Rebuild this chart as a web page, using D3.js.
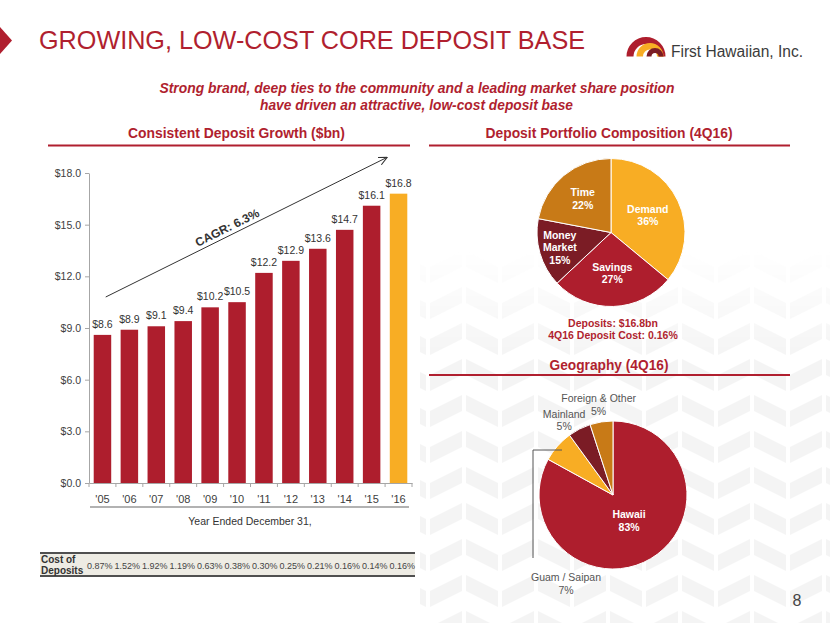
<!DOCTYPE html>
<html><head><meta charset="utf-8">
<script src="https://cdn.jsdelivr.net/npm/d3@7"></script>
<style>
body{margin:0;background:#fff}
svg{display:block}
text{font-family:"Liberation Sans",Arial,Helvetica,sans-serif}
.narrow{font-family:"Liberation Sans Narrow","Arial Narrow","Liberation Sans",Arial,sans-serif}
</style>
</head><body>
<svg id="c" width="830" height="623"></svg>
<script>
// ---------- data ----------
const years = ["'05","'06","'07","'08","'09","'10","'11","'12","'13","'14","'15","'16"];
const deposits = [8.6, 8.9, 9.1, 9.4, 10.2, 10.5, 12.2, 12.9, 13.6, 14.7, 16.1, 16.8];
const costOfDeposits = ["0.87%","1.52%","1.92%","1.19%","0.63%","0.38%","0.30%","0.25%","0.21%","0.16%","0.14%","0.16%"];
const yTicks = [0, 3, 6, 9, 12, 15, 18];
const compLabels = ["Demand","Savings","Money Market","Time"];
const compValues = [36, 27, 15, 22];
const geoLabels = ["Hawaii","Guam / Saipan","Mainland","Foreign & Other"];
const geoValues = [83, 7, 5, 5];

// ---------- styles ----------
const RED = "#AE1E2D", ORANGE = "#F8AD24", MAROON = "#7B1C25", DKORANGE = "#C87A17";
const TITLE_RED = "#B01F2F";
const compColors = [ORANGE, RED, MAROON, DKORANGE];
const geoColors = [RED, ORANGE, MAROON, DKORANGE];
const compLabelRadius = [0.55, 0.55, 0.72, 0.6];

const svg = d3.select("#c");
const defs = svg.append("defs");

// ---------- faint chevron background ----------
const pat = defs.append("pattern").attr("id","chev").attr("patternUnits","userSpaceOnUse")
  .attr("width",72).attr("height",36).attr("x",428).attr("y",250);
const CHEV = "#f4f4f4";
pat.append("polygon").attr("points","2,17 34,1 34,17 2,33").attr("fill",CHEV);
pat.append("polygon").attr("points","38,1 70,17 70,33 38,17").attr("fill",CHEV);
pat.append("polygon").attr("points","2,-19 34,-35 34,-19 2,-3").attr("fill",CHEV);
pat.append("polygon").attr("points","38,37 70,53 70,69 38,53").attr("fill",CHEV);
const fade = defs.append("linearGradient").attr("id","fade").attr("x1",0).attr("y1",0).attr("x2",0).attr("y2",1);
fade.append("stop").attr("offset","0").attr("stop-color","#fff").attr("stop-opacity",0);
fade.append("stop").attr("offset","0.3").attr("stop-color","#fff").attr("stop-opacity",1);
const mask = defs.append("mask").attr("id","fm");
mask.append("rect").attr("x",420).attr("y",250).attr("width",410).attr("height",373).attr("fill","url(#fade)");
svg.append("rect").attr("x",420).attr("y",250).attr("width",410).attr("height",373)
  .attr("fill","url(#chev)").attr("mask","url(#fm)");

// ---------- header ----------
svg.append("polygon").attr("points","0,27 12,40.5 0,54").attr("fill",TITLE_RED);
svg.append("text").attr("x",39).attr("y",49).attr("font-size",25).attr("fill",TITLE_RED)
  .attr("textLength",546).attr("lengthAdjust","spacingAndGlyphs")
  .text("GROWING, LOW-COST CORE DEPOSIT BASE");

// logo
const logo = svg.append("g");
const half = d3.arc().startAngle(-Math.PI/2).endAngle(Math.PI/2);
logo.append("path").attr("transform","translate(646,56.5)")
  .attr("d", half({innerRadius:12.5, outerRadius:19.5})).attr("fill",RED);
logo.append("path").attr("transform","translate(650,56.5)")
  .attr("d", half({innerRadius:7, outerRadius:13.5})).attr("fill",ORANGE);
logo.append("path").attr("transform","translate(655,56.5)")
  .attr("d", half({innerRadius:3.5, outerRadius:8.5})).attr("fill",MAROON);
logo.append("text").attr("x",671).attr("y",57).attr("font-size",16).attr("fill","#3b3b3b")
  .attr("textLength",132).attr("lengthAdjust","spacingAndGlyphs").text("First Hawaiian, Inc.");

// subtitle
svg.append("text").attr("class","narrow").attr("x",417).attr("y",93).attr("text-anchor","middle")
  .attr("font-size",15).attr("font-weight","bold").attr("font-style","italic").attr("fill",TITLE_RED)
  .attr("textLength",515).attr("lengthAdjust","spacingAndGlyphs")
  .text("Strong brand, deep ties to the community and a leading market share position");
svg.append("text").attr("class","narrow").attr("x",416.5).attr("y",110).attr("text-anchor","middle")
  .attr("font-size",15).attr("font-weight","bold").attr("font-style","italic").attr("fill",TITLE_RED)
  .attr("textLength",313).attr("lengthAdjust","spacingAndGlyphs")
  .text("have driven an attractive, low-cost deposit base");

// section headings
function heading(txt, cx, y, w, x1, x2, ly){
  svg.append("text").attr("class","narrow").attr("x",cx).attr("y",y).attr("text-anchor","middle")
    .attr("font-size",15).attr("font-weight","bold").attr("fill",TITLE_RED)
    .attr("textLength",w).attr("lengthAdjust","spacingAndGlyphs").text(txt);
  svg.append("line").attr("x1",x1).attr("x2",x2).attr("y1",ly).attr("y2",ly)
    .attr("stroke",TITLE_RED).attr("stroke-width",2);
}
heading("Consistent Deposit Growth ($bn)", 236.5, 138, 217, 48, 410, 145.5);
heading("Deposit Portfolio Composition (4Q16)", 609, 138, 247, 429, 790, 145.5);
heading("Geography (4Q16)", 609, 370, 119, 429, 790, 375);

// ---------- bar chart ----------
const x = d3.scaleBand().domain(years).range([89, 412]).paddingInner(0.35).paddingOuter(0.175);
const y = d3.scaleLinear().domain([0, 18]).range([483, 173]);

const yAxis = svg.append("g").attr("transform","translate(89,0)")
  .call(d3.axisLeft(y).tickValues(yTicks).tickFormat(d => "$" + d.toFixed(1)).tickSize(4).tickSizeOuter(0).tickPadding(4));
yAxis.select(".domain").attr("stroke","#a6a6a6");
yAxis.selectAll(".tick line").attr("stroke","#a6a6a6");
yAxis.selectAll("text").attr("font-size",10.5).attr("fill","#404040").attr("font-family",null);

svg.append("g").selectAll("rect").data(deposits).join("rect")
  .attr("x",(d,i)=>x(years[i])).attr("width",x.bandwidth())
  .attr("y",d=>y(d)).attr("height",d=>y(0)-y(d))
  .attr("fill",(d,i)=> i === years.length-1 ? ORANGE : RED);

svg.append("g").selectAll("text").data(deposits).join("text")
  .attr("x",(d,i)=>x(years[i]) + x.bandwidth()/2).attr("y",d=>y(d)-7)
  .attr("text-anchor","middle").attr("font-size",10.5).attr("fill","#333")
  .text(d => "$" + d.toFixed(1));

// x axis
const xAxis = svg.append("g").attr("transform","translate(0,483)")
  .call(d3.axisBottom(x).tickSize(0).tickPadding(12));
xAxis.select(".domain").attr("stroke","#a6a6a6");
xAxis.selectAll("text").attr("font-size",11).attr("fill","#404040").attr("font-family",null);
const bounds = years.map(d => x(d) - x.step()*x.paddingInner()/2);
bounds.push(x(years[years.length-1]) + x.bandwidth() + x.step()*x.paddingInner()/2);
svg.append("g").selectAll("line").data(bounds).join("line")
  .attr("x1",d=>d).attr("x2",d=>d).attr("y1",483).attr("y2",487).attr("stroke","#a6a6a6");
svg.append("line").attr("x1",90).attr("x2",409).attr("y1",507).attr("y2",507)
  .attr("stroke","#666").attr("stroke-width",1.2);
svg.append("text").attr("x",250).attr("y",525).attr("text-anchor","middle")
  .attr("font-size",10.5).attr("fill","#333").text("Year Ended December 31,");

// CAGR arrow
defs.append("marker").attr("id","arr").attr("viewBox","0 0 10 10").attr("refX",9).attr("refY",5)
  .attr("markerWidth",9).attr("markerHeight",9).attr("orient","auto").attr("markerUnits","userSpaceOnUse")
  .append("path").attr("d","M0,0.5 L9.5,5 L0,9.5").attr("fill","none").attr("stroke","#333").attr("stroke-width",1.2);
const ax1 = x(years[0]) + 12, ay1 = y(10.8);
const ax2 = x(years[years.length-1]) - 3, ay2 = y(18.9);
svg.append("line").attr("x1",ax1).attr("y1",ay1).attr("x2",ax2).attr("y2",ay2)
  .attr("stroke","#333").attr("stroke-width",1).attr("marker-end","url(#arr)");
const ang = Math.atan2(ay2-ay1, ax2-ax1);
const t = 0.445, mx = ax1 + t*(ax2-ax1), my = ay1 + t*(ay2-ay1);
const nx = Math.sin(ang)*4, ny = -Math.cos(ang)*4;
svg.append("text").attr("transform",`translate(${mx+nx},${my+ny}) rotate(${ang*180/Math.PI})`)
  .attr("text-anchor","middle").attr("font-size",12).attr("font-weight","bold").attr("fill","#333")
  .text("CAGR: 6.3%");

// cost table
svg.append("rect").attr("x",40).attr("y",553).attr("width",375).attr("height",23).attr("fill","#EEECE4");
[553, 576].forEach(ly => svg.append("line").attr("x1",40).attr("x2",415).attr("y1",ly).attr("y2",ly)
  .attr("stroke","#505050").attr("stroke-width",2));
svg.append("text").attr("x",41).attr("y",562.5).attr("font-size",10).attr("font-weight","bold").attr("fill","#333").text("Cost of");
svg.append("text").attr("x",41).attr("y",574).attr("font-size",10).attr("font-weight","bold").attr("fill","#333").text("Deposits");
const xt = d3.scaleBand().domain(years).range([86, 416]);
svg.append("g").selectAll("text").data(costOfDeposits).join("text")
  .attr("x",(d,i)=>xt(years[i]) + xt.bandwidth()/2).attr("y",568.5)
  .attr("text-anchor","middle").attr("font-size",9).attr("fill","#444").text(d=>d);

// ---------- pie: composition ----------
const pie = d3.pie().sort(null).value(d=>d);
const R = 74;
const arc = d3.arc().innerRadius(0).outerRadius(R);
const p1 = svg.append("g").attr("transform","translate(611,232.5)");
const compArcs = pie(compValues);
p1.selectAll("path").data(compArcs).join("path")
  .attr("d",arc).attr("fill",(d,i)=>compColors[i]).attr("stroke","#fff").attr("stroke-width",1);
compArcs.forEach((a,i) => {
  const lr = compLabelRadius[i]*R;
  const c = d3.arc().innerRadius(lr).outerRadius(lr).centroid(a);
  const lines = compLabels[i].split(" ").concat([compValues[i] + "%"]);
  const lh = 12.5;
  const tx = p1.append("text").attr("text-anchor","middle").attr("font-size",10.5)
    .attr("font-weight","bold").attr("fill","#fff");
  lines.forEach((l,j) => tx.append("tspan").attr("x",c[0])
    .attr("y", c[1] + (j - (lines.length-1)/2)*lh + 4).text(l));
});
svg.append("text").attr("x",613).attr("y",326.5).attr("text-anchor","middle").attr("font-size",10.5)
  .attr("font-weight","bold").attr("fill",TITLE_RED).text("Deposits: $16.8bn");
svg.append("text").attr("x",613).attr("y",339).attr("text-anchor","middle").attr("font-size",10.5)
  .attr("font-weight","bold").attr("fill",TITLE_RED).text("4Q16 Deposit Cost: 0.16%");

// ---------- pie: geography ----------
const p2 = svg.append("g").attr("transform","translate(613,495)");
const geoArcs = pie(geoValues);
p2.selectAll("path").data(geoArcs).join("path")
  .attr("d",arc).attr("fill",(d,i)=>geoColors[i]).attr("stroke","#fff").attr("stroke-width",1);
// Hawaii label (inside)
{
  const c = d3.arc().innerRadius(0.4*R).outerRadius(0.4*R).centroid(geoArcs[0]);
  const tx = p2.append("text").attr("text-anchor","middle").attr("font-size",10.5).attr("font-weight","bold").attr("fill","#fff");
  tx.append("tspan").attr("x",c[0]+1).attr("y",c[1]-2).text(geoLabels[0]);
  tx.append("tspan").attr("x",c[0]+1).attr("y",c[1]+10.5).text(geoValues[0] + "%");
}
// outside labels: Mainland, Foreign & Other
[[2, 90, -8, 5], [3, 92, 0, 0]].forEach(([i, lr, dx, dy]) => {
  const c = d3.arc().innerRadius(lr).outerRadius(lr).centroid(geoArcs[i]);
  const tx = p2.append("text").attr("text-anchor","middle").attr("font-size",10.5).attr("fill","#555");
  tx.append("tspan").attr("x",c[0]+dx).attr("y",c[1]-2+dy).text(geoLabels[i]);
  tx.append("tspan").attr("x",c[0]+dx).attr("y",c[1]+10.5+dy).text(geoValues[i] + "%");
});
// Guam / Saipan with leader line
{
  const c = d3.arc().innerRadius(R-6).outerRadius(R-6).centroid(geoArcs[1]);
  const lx = 533 - 613, lyEnd = 558 - 495;
  p2.append("polyline").attr("points",`${c[0]},${c[1]} ${lx},${c[1]} ${lx},${lyEnd}`)
    .attr("fill","none").attr("stroke","#555").attr("stroke-width",1);
  const tx = p2.append("text").attr("text-anchor","middle").attr("font-size",10.5).attr("fill","#555");
  tx.append("tspan").attr("x",566-613).attr("y",581-495).text(geoLabels[1]);
  tx.append("tspan").attr("x",566-613).attr("y",593.5-495).text(geoValues[1] + "%");
}

// page number
svg.append("text").attr("x",797).attr("y",606).attr("text-anchor","middle").attr("font-size",16)
  .attr("fill","#444").text("8");
</script>
</body></html>
